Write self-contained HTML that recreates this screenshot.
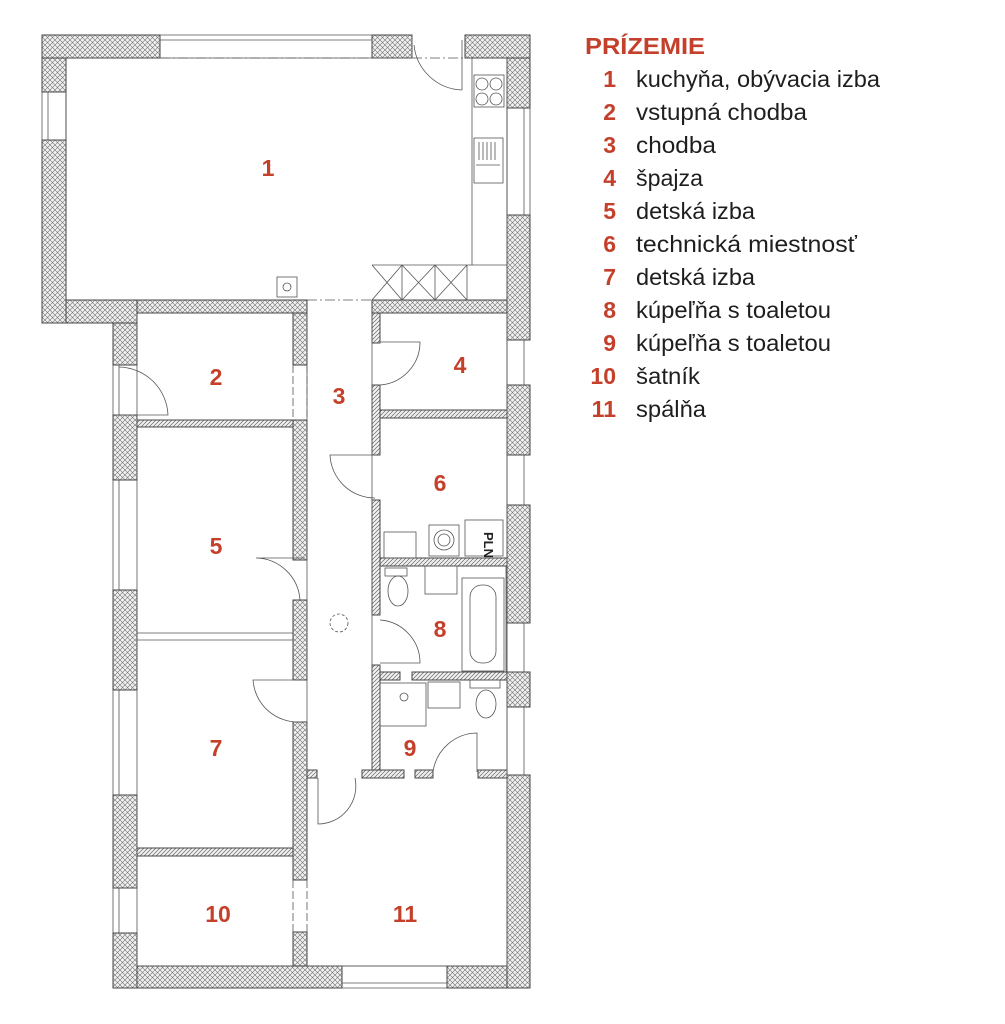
<!DOCTYPE html>
<html><head><meta charset="utf-8"><style>html,body{margin:0;padding:0;background:#fff}svg{display:block}</style></head>
<body>
<svg width="1005" height="1024" viewBox="0 0 1005 1024" xmlns="http://www.w3.org/2000/svg">
<defs>
<pattern id="ch" width="5" height="5" patternUnits="userSpaceOnUse">
<rect width="5" height="5" fill="#f0f0f0"/>
<path d="M0 0L5 5M5 0L0 5" stroke="#707070" stroke-width="0.6"/>
</pattern>
<pattern id="dh" width="4" height="4" patternUnits="userSpaceOnUse">
<rect width="4" height="4" fill="#f2f2f2"/>
<path d="M0 4L4 0M-1 1L1 -1M3 5L5 3" stroke="#666" stroke-width="0.7"/>
</pattern>
</defs>
<g stroke="#444" stroke-width="1">
<rect x="42" y="35" width="118" height="23" fill="url(#ch)"/>
<rect x="372" y="35" width="40" height="23" fill="url(#ch)"/>
<rect x="465" y="35" width="65" height="23" fill="url(#ch)"/>
<rect x="42" y="58" width="24" height="34" fill="url(#ch)"/>
<rect x="42" y="140" width="24" height="183" fill="url(#ch)"/>
<rect x="66" y="300" width="71" height="23" fill="url(#ch)"/>
<rect x="137" y="300" width="170" height="13" fill="url(#ch)"/>
<rect x="372" y="300" width="135" height="13" fill="url(#ch)"/>
<rect x="113" y="323" width="24" height="42" fill="url(#ch)"/>
<rect x="113" y="415" width="24" height="65" fill="url(#ch)"/>
<rect x="113" y="590" width="24" height="100" fill="url(#ch)"/>
<rect x="113" y="795" width="24" height="93" fill="url(#ch)"/>
<rect x="113" y="933" width="24" height="55" fill="url(#ch)"/>
<rect x="137" y="966" width="205" height="22" fill="url(#ch)"/>
<rect x="447" y="966" width="83" height="22" fill="url(#ch)"/>
<rect x="507" y="58" width="23" height="50" fill="url(#ch)"/>
<rect x="507" y="215" width="23" height="125" fill="url(#ch)"/>
<rect x="507" y="385" width="23" height="70" fill="url(#ch)"/>
<rect x="507" y="505" width="23" height="118" fill="url(#ch)"/>
<rect x="507" y="672" width="23" height="35" fill="url(#ch)"/>
<rect x="507" y="775" width="23" height="213" fill="url(#ch)"/>
<rect x="293" y="313" width="14" height="52" fill="url(#ch)"/>
<rect x="293" y="420" width="14" height="140" fill="url(#ch)"/>
<rect x="293" y="600" width="14" height="80" fill="url(#ch)"/>
<rect x="293" y="722" width="14" height="158" fill="url(#ch)"/>
<rect x="293" y="932" width="14" height="34" fill="url(#ch)"/>
<rect x="137" y="420" width="156" height="7" fill="url(#dh)"/>
<rect x="137" y="848" width="156" height="8" fill="url(#dh)"/>
<rect x="372" y="313" width="8" height="30" fill="url(#dh)"/>
<rect x="372" y="385" width="8" height="70" fill="url(#dh)"/>
<rect x="372" y="500" width="8" height="115" fill="url(#dh)"/>
<rect x="372" y="665" width="8" height="110" fill="url(#dh)"/>
<rect x="380" y="410" width="127" height="8" fill="url(#dh)"/>
<rect x="380" y="558" width="127" height="8" fill="url(#dh)"/>
<rect x="380" y="672" width="20" height="8" fill="url(#dh)"/>
<rect x="412" y="672" width="95" height="8" fill="url(#dh)"/>
<rect x="307" y="770" width="10" height="8" fill="url(#dh)"/>
<rect x="362" y="770" width="42" height="8" fill="url(#dh)"/>
<rect x="415" y="770" width="18" height="8" fill="url(#dh)"/>
<rect x="478" y="770" width="29" height="8" fill="url(#dh)"/>
</g>
<g fill="none" stroke="#555" stroke-width="0.8">
<path d="M160 35H372M160 40H372M160 58H372"/>
<path d="M42 92V140M48 92V140M66 92V140"/>
<path d="M113 480V590M119 480V590M113 690V795M119 690V795M113 888V933M119 888V933"/>
<path d="M342 966H447M342 983H447M342 988H447"/>
<path d="M507 108V215M524 108V215M530 108V215M507 340V385M524 340V385M507 455V505M524 455V505M507 623V672M524 623V672M507 707V775M524 707V775"/>
<path d="M66 58V300H307M372 300H507V58" stroke="#444"/>
<path d="M160 58H465" stroke-dasharray="10 3 2 3"/>
<path d="M307 300H372" stroke-dasharray="10 3 2 3"/>
<path d="M412 35V58M462 40V90M462 90A50 50 0 0 1 414 45"/>
<path d="M472 58V265M372 265H507"/>
<rect x="474" y="75" width="30" height="32"/>
<circle cx="482" cy="84" r="6"/><circle cx="496" cy="84" r="6"/><circle cx="482" cy="99" r="6"/><circle cx="496" cy="99" r="6"/>
<rect x="474" y="138" width="29" height="45"/>
<path d="M479 142V160M483 142V160M487 142V160M491 142V160M495 142V160M476 165H500"/>
<path d="M402 265V300M435 265V300M467 265V300M372 265L402 300M402 265L372 300M402 265L435 300M435 265L402 300M435 265L467 300M467 265L435 300"/>
<rect x="277" y="277" width="20" height="20"/><circle cx="287" cy="287" r="4"/>
<path d="M113 365V415M119 365V415M119 367A50 50 0 0 1 168 415H119"/>
<path d="M293 365V420M307 365V420" stroke-dasharray="8 3"/>
<path d="M380 342H420A43 43 0 0 1 380 385"/>
<path d="M375 455H330A45 45 0 0 0 375 498"/>
<path d="M305 558H256A45 45 0 0 1 300 600"/>
<path d="M305 680H253A45 45 0 0 0 300 722"/>
<path d="M293 880V932M307 880V932" stroke-dasharray="8 3"/>
<circle cx="339" cy="623" r="9" stroke-dasharray="3 2"/>
<path d="M380 620A43 43 0 0 1 420 663H380"/>
<rect x="465" y="520" width="38" height="36"/>
<rect x="429" y="525" width="30" height="31"/><circle cx="444" cy="540" r="10"/><circle cx="444" cy="540" r="6"/>
<rect x="384" y="532" width="32" height="26"/>
<rect x="385" y="568" width="22" height="8"/><ellipse cx="398" cy="591" rx="10" ry="15"/>
<rect x="425" y="566" width="32" height="28"/>
<rect x="462" y="578" width="42" height="93"/><rect x="470" y="585" width="26" height="78" rx="12"/>
<path d="M506 566V672" />
<rect x="380" y="683" width="46" height="43"/><circle cx="404" cy="697" r="4"/>
<rect x="428" y="682" width="32" height="26"/>
<rect x="470" y="680" width="30" height="8"/><ellipse cx="486" cy="704" rx="10" ry="14"/>
<path d="M477 772V733A45 45 0 0 0 433 772"/>
<path d="M318 778V824A38 38 0 0 0 355 778"/>
<path d="M137 313V966H293M307 966H507V58"/>
<path d="M137 633H293M137 640H293"/>
<path d="M307 313V770M372 770V313"/>
</g>
<text x="484" y="532" font-family="Liberation Sans,sans-serif" font-weight="bold" font-size="13" transform="rotate(90 484 532)" fill="#222">PLN</text>
<g font-family="Liberation Sans,sans-serif" font-weight="bold" font-size="23" fill="#c4402a" text-anchor="middle">
<text x="268" y="176">1</text><text x="216" y="385">2</text><text x="339" y="404">3</text><text x="460" y="373">4</text>
<text x="216" y="554">5</text><text x="440" y="491">6</text><text x="216" y="756">7</text><text x="440" y="637">8</text>
<text x="410" y="756">9</text><text x="218" y="922">10</text><text x="405" y="922">11</text>
</g>
<text x="585" y="54" font-family="Liberation Sans,sans-serif" font-weight="bold" font-size="23" fill="#c4402a" textLength="120" lengthAdjust="spacingAndGlyphs">PRÍZEMIE</text>
<g font-family="Liberation Sans,sans-serif" font-weight="bold" font-size="23" fill="#c4402a" text-anchor="end">
<text x="616" y="87">1</text><text x="616" y="120">2</text><text x="616" y="153">3</text><text x="616" y="186">4</text>
<text x="616" y="219">5</text><text x="616" y="252">6</text><text x="616" y="285">7</text><text x="616" y="318">8</text>
<text x="616" y="351">9</text><text x="616" y="384">10</text><text x="616" y="417">11</text>
</g>
<g font-family="Liberation Sans,sans-serif" font-size="23.5" fill="#1e1e1e">
<text x="636" y="87" textLength="244" lengthAdjust="spacingAndGlyphs">kuchyňa, obývacia izba</text>
<text x="636" y="120" textLength="171" lengthAdjust="spacingAndGlyphs">vstupná chodba</text>
<text x="636" y="153" textLength="80" lengthAdjust="spacingAndGlyphs">chodba</text>
<text x="636" y="186" textLength="67" lengthAdjust="spacingAndGlyphs">špajza</text>
<text x="636" y="219" textLength="119" lengthAdjust="spacingAndGlyphs">detská izba</text>
<text x="636" y="252" textLength="221" lengthAdjust="spacingAndGlyphs">technická miestnosť</text>
<text x="636" y="285" textLength="119" lengthAdjust="spacingAndGlyphs">detská izba</text>
<text x="636" y="318" textLength="195" lengthAdjust="spacingAndGlyphs">kúpeľňa s toaletou</text>
<text x="636" y="351" textLength="195" lengthAdjust="spacingAndGlyphs">kúpeľňa s toaletou</text>
<text x="636" y="384" textLength="64" lengthAdjust="spacingAndGlyphs">šatník</text>
<text x="636" y="417" textLength="70" lengthAdjust="spacingAndGlyphs">spálňa</text>
</g>
</svg>
</body></html>
